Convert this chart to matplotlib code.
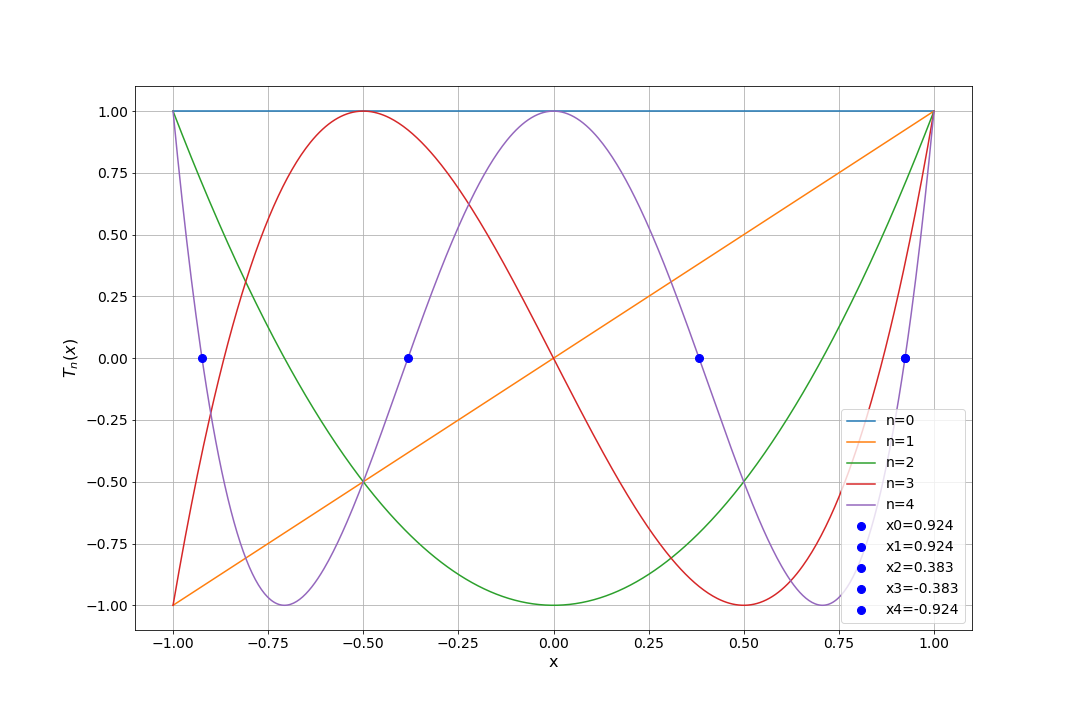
import numpy as np
import matplotlib
matplotlib.use("Agg")
import matplotlib.pyplot as plt

# Chebyshev polynomial coefficients T0..T4 (highest power first)
degrees = [0, 1, 2, 3, 4]
coeffs = [
    [1],
    [1, 0],
    [2, 0, -1],
    [4, 0, -3, 0],
    [8, 0, -8, 0, 1],
]
# roots of T4 as labelled in the legend
root_labels = ["x0=0.924", "x1=0.924", "x2=0.383", "x3=-0.383", "x4=-0.924"]
root_values = [0.924, 0.924, 0.383, -0.383, -0.924]

plt.rcParams["font.size"] = 14

fig, ax = plt.subplots(figsize=(15, 10), dpi=72)
fig.subplots_adjust(left=0.125, right=0.9, top=0.88, bottom=0.125)

x = np.linspace(-1, 1, 500)
for n, c in zip(degrees, coeffs):
    ax.plot(x, np.polyval(c, x), label="n=%d" % n)

for lab, r in zip(root_labels, root_values):
    ax.plot(r, 0, "o", color="blue", markersize=8, label=lab)

ax.set_xlabel("x", fontsize=16)
ax.set_ylabel("$T_n(x)$", fontsize=16)
ax.grid(True)
ax.legend(loc="lower right")
fig.savefig("out.png", dpi=72)
